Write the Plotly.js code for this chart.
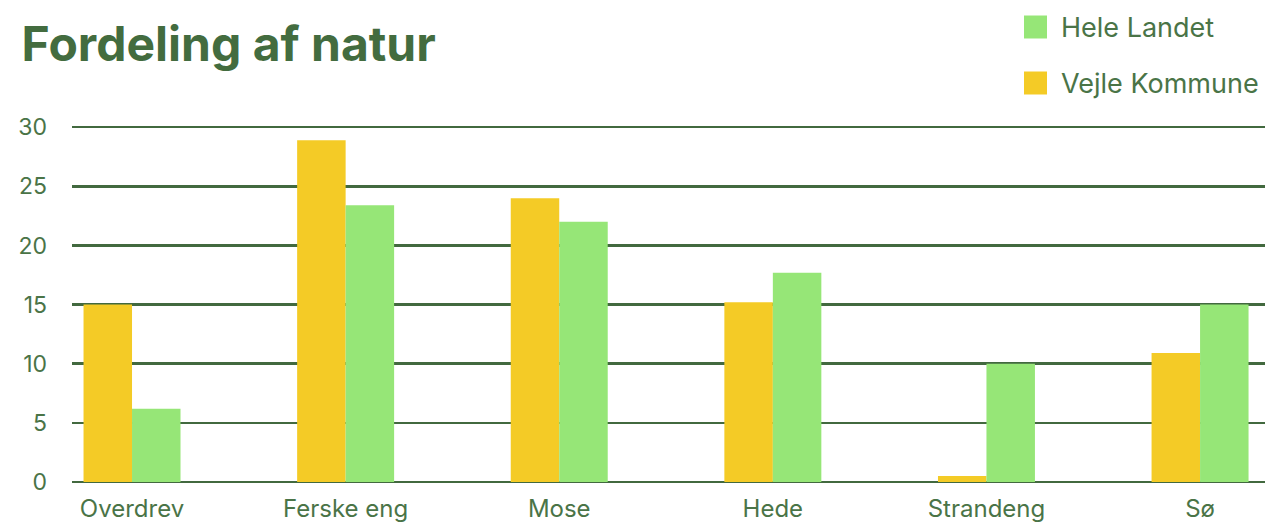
<!DOCTYPE html>
<html>
<head>
<meta charset="utf-8">
<script src="https://cdn.plot.ly/plotly-3.0.1.min.js"></script>
<style>html,body{margin:0;padding:0;background:#fff;}#chart{width:1272px;height:523px;}</style>
</head>
<body>
<div id="chart"></div>
<script>
const categories = ["Overdrev", "Ferske eng", "Mose", "Hede", "Strandeng", "Sø"];
const vejleKommune = [15.0, 28.9, 24.0, 15.2, 0.5, 10.9];
const heleLandet = [6.2, 23.4, 22.0, 17.7, 10.0, 15.0];
const yTicks = [0, 5, 10, 15, 20, 25, 30];
const legendNames = ["Hele Landet", "Vejle Kommune"];
const legendColors = ["#96e677", "#f4cb26"];

const textColor = "#4a7447";
const gridColor = "#42693f";
const fontFam = "Inter, 'Open Sans', sans-serif";

const traces = [
  {type: "bar", name: "Vejle Kommune", x: categories, y: vejleKommune,
   marker: {color: "#f4cb26"}, showlegend: false},
  {type: "bar", name: "Hele Landet", x: categories, y: heleLandet,
   marker: {color: "#96e677"}, showlegend: false}
];

// legend drawn in pixel-like paper space
const W = 1272, H = 523;
const mL = 72, mR = 7, mT = 126, mB = 41;
const pw = W - mL - mR, ph = H - mT - mB;
const px = x => (x - mL) / pw;
const py = y => (H - mB - y) / ph;

const shapes = [], annotations = [];
legendNames.forEach((name, i) => {
  const yc = 27 + i * 56;
  shapes.push({type: "rect", xref: "paper", yref: "paper",
    x0: px(1024), x1: px(1047), y0: py(yc + 11.5), y1: py(yc - 11.5),
    fillcolor: legendColors[i], line: {width: 0}});
  annotations.push({xref: "paper", yref: "paper", x: px(1059), y: py(yc),
    xanchor: "left", yanchor: "middle", showarrow: false, text: name,
    font: {family: fontFam, size: 27, color: textColor}});
});

const layout = {
  width: W, height: H,
  paper_bgcolor: "#fff", plot_bgcolor: "#fff",
  margin: {l: mL, r: mR, t: mT, b: mB},
  font: {family: fontFam, color: textColor},
  title: {text: "<b>Fordeling af natur</b>", x: 0.017, xanchor: "left", y: 0.915, yanchor: "middle",
          font: {family: fontFam, size: 48, color: "#436c3f"}},
  barmode: "group", bargap: 0.546, bargroupgap: 0,
  xaxis: {type: "category", range: [-0.281, 5.304], showgrid: false, zeroline: false,
          showline: false, ticks: "", ticklabelstandoff: 10, tickfont: {size: 24, color: textColor}, fixedrange: true},
  yaxis: {range: [0, 30.1], tickvals: yTicks, ticktext: yTicks.map(String), showgrid: true,
          gridcolor: gridColor, gridwidth: 2.5, zeroline: true, zerolinecolor: gridColor, zerolinewidth: 2.5,
          showline: false, ticks: "", ticklabelstandoff: 24, tickfont: {size: 23, color: textColor}, fixedrange: true},
  showlegend: false,
  shapes: shapes,
  annotations: annotations
};

Plotly.newPlot("chart", traces, layout, {displayModeBar: false, staticPlot: true});
</script>
</body>
</html>
